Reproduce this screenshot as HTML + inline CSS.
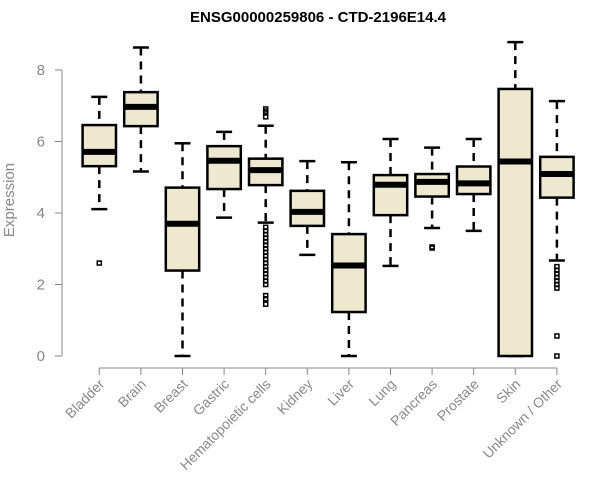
<!DOCTYPE html>
<html><head><meta charset="utf-8"><style>
body{margin:0;background:#fff;}
svg{display:block;font-family:"Liberation Sans",Arial,sans-serif;}
</style></head><body>
<svg id="chart" width="600" height="500"></svg>
<script>
const categories=["Bladder","Brain","Breast","Gastric","Hematopoietic cells","Kidney","Liver","Lung","Pancreas","Prostate","Skin","Unknown / Other"];
const whiskerLow=[4.11,5.16,0,3.87,3.73,2.83,0,2.52,3.58,3.50,0,2.67];
const q1=[5.31,6.43,2.39,4.67,4.78,3.64,1.23,3.94,4.46,4.53,0,4.43];
const medians=[5.71,6.97,3.70,5.46,5.20,4.03,2.53,4.79,4.87,4.83,5.44,5.09];
const q3=[6.46,7.38,4.71,5.87,5.52,4.62,3.41,5.06,5.09,5.30,7.47,5.57];
const whiskerHigh=[7.25,8.63,5.95,6.27,6.44,5.45,5.42,6.07,5.83,6.07,8.78,7.13];
const outliers=[[2.6],[],[],[],[6.91,6.85,6.8,6.69,3.6,3.5,3.4,3.3,3.2,3.1,3.0,2.9,2.8,2.7,2.6,2.5,2.4,2.3,2.2,2.1,2.0,1.69,1.6,1.45],[],[],[],[3.02,3.05],[],[],[2.5,2.4,2.3,2.2,2.1,2.0,1.9,0.56,0]];
const yTicks=[0,2,4,6,8];

const NS="http://www.w3.org/2000/svg";
const svg=document.getElementById("chart");
function y(v){return 356-35.75*v;}
function x(i){return 99.3+41.6*i;}
function el(tag,attrs,parent){const e=document.createElementNS(NS,tag);for(const k in attrs)e.setAttribute(k,attrs[k]);(parent||svg).appendChild(e);return e;}

const title=el("text",{x:318,y:22,"text-anchor":"middle","font-size":"15","font-weight":"bold",fill:"#000"});
title.textContent="ENSG00000259806 - CTD-2196E14.4";



const yl=el("text",{x:0,y:0,transform:"translate(14,200) rotate(-90)","text-anchor":"middle","font-size":"15",fill:"#888"});
yl.textContent="Expression";



const yAxis=el("g",{});


el("line",{x1:62,x2:62,y1:y(8),y2:y(0),stroke:"#888","stroke-width":1},yAxis);
yTicks.forEach(t=>{
  el("line",{x1:55,x2:62,y1:y(t),y2:y(t),stroke:"#888","stroke-width":1},yAxis);
  const tx=el("text",{x:45,y:y(t)+5,"text-anchor":"end","font-size":"15",fill:"#888"},yAxis);
  tx.textContent=t;
  
  
});

const xAxis=el("g",{});


el("line",{x1:x(0),x2:x(categories.length-1),y1:368,y2:368,stroke:"#888","stroke-width":1},xAxis);
categories.forEach((c,i)=>{
  el("line",{x1:x(i),x2:x(i),y1:368,y2:375,stroke:"#888","stroke-width":1},xAxis);
  const tx=el("text",{x:0,y:0,transform:`translate(${x(i)+6},${385}) rotate(-45)`,"text-anchor":"end","font-size":"14",fill:"#888"},xAxis);
  tx.textContent=c;
  
  
});

const hw=16.7;
categories.forEach((c,i)=>{
  const g=el("g",{});
  
  
  const cx=x(i);
  el("line",{x1:cx,x2:cx,y1:y(whiskerHigh[i]),y2:y(q3[i]),stroke:"#000","stroke-width":2.5,"stroke-dasharray":"8,6"},g);
  el("line",{x1:cx,x2:cx,y1:y(q1[i]),y2:y(whiskerLow[i]),stroke:"#000","stroke-width":2.5,"stroke-dasharray":"8,6"},g);
  el("line",{x1:cx-8,x2:cx+8,y1:y(whiskerHigh[i]),y2:y(whiskerHigh[i]),stroke:"#000","stroke-width":2.5},g);
  el("line",{x1:cx-8,x2:cx+8,y1:y(whiskerLow[i]),y2:y(whiskerLow[i]),stroke:"#000","stroke-width":2.5},g);
  el("rect",{x:cx-hw,y:y(q3[i]),width:2*hw,height:y(q1[i])-y(q3[i]),fill:"#EDE8CF",stroke:"#000","stroke-width":2.5},g);
  el("line",{x1:cx-hw,x2:cx+hw,y1:y(medians[i]),y2:y(medians[i]),stroke:"#000","stroke-width":6},g);
  outliers[i].forEach(o=>{
    el("rect",{x:cx-2,y:y(o)-2,width:4,height:4,fill:"none",stroke:"#000","stroke-width":1.5},g);
  });
});
</script>
</body></html>
